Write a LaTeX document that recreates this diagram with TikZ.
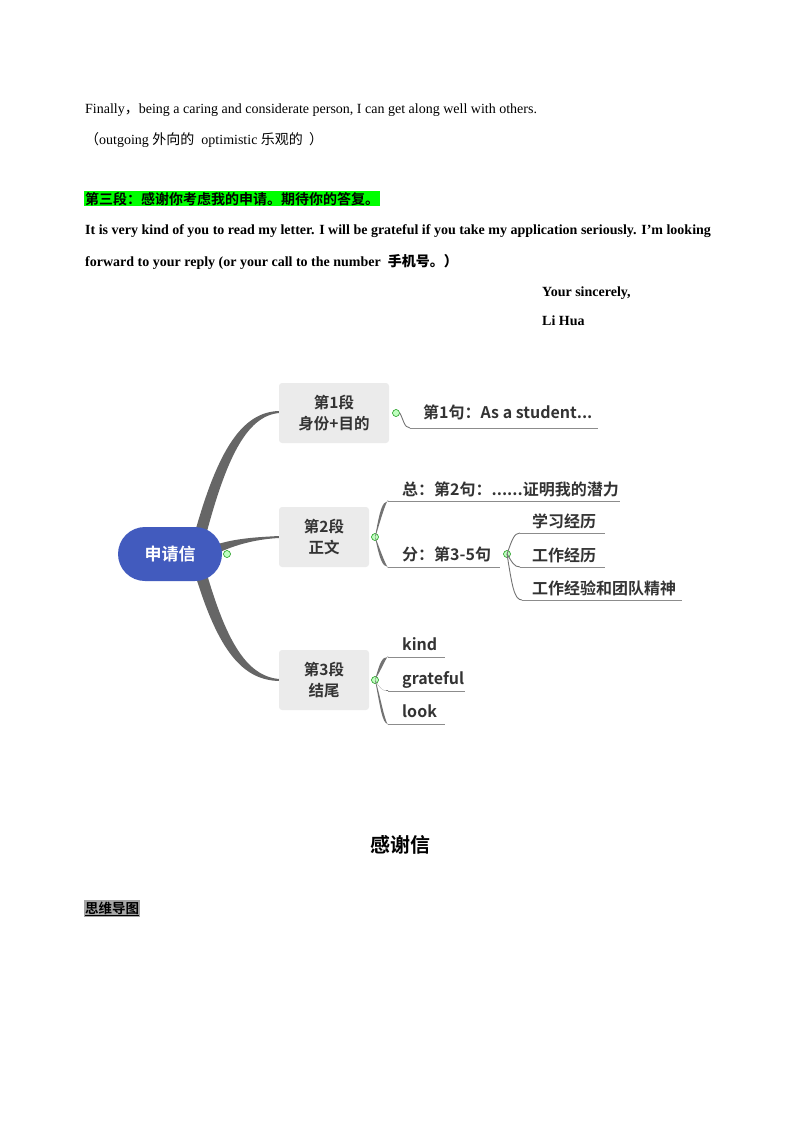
\documentclass[tikz,border=0pt]{standalone}
\usepackage{fontspec}
\setmainfont{Liberation Serif}
\newfontfamily\cjk{Noto Sans CJK SC}
\newfontfamily\cjkb{Noto Sans CJK SC Bold}
\begin{document}
\begin{tikzpicture}[x=1pt,y=-1pt,
  body/.style={anchor=base west,inner sep=0pt,font=\fontsize{14}{16}\selectfont},
  bbody/.style={body,font=\fontsize{14}{16}\selectfont\bfseries},
  mm/.style={anchor=base west,inner sep=0pt,font=\cjkb\fontsize{16}{18}\selectfont,text=black!80},
  box/.style={fill=black!8,rounded corners=3pt,align=center,font=\cjkb\fontsize{15.5}{21}\selectfont,text=black!80},
  ul/.style={draw=black!45,line width=0.8pt},
  br/.style={draw=black!55,line width=0.9pt},
  knob/.style={circle,draw=green!55!black,fill=green!25,line width=0.5pt,minimum size=7pt,inner sep=0pt}]
\useasboundingbox (0,0) rectangle (800,1132);
% top text
\node[body] (t1) at (85,113) {Finally{\cjk，}being a caring and considerate person, I can get along well with others.};
\node[body] (t2) at (85,144) {{\cjk（}outgoing {\cjk 外向的}\ \ optimistic {\cjk 乐观的\ \ ）}};
\node[anchor=base west,inner sep=1pt,fill=green,font=\cjkb\fontsize{14}{15}\selectfont] (t3) at (84,204) {第三段：感谢你考虑我的申请。期待你的答复。};
\node[bbody] (t4) at (85,234) {It is very kind of you to read my letter. I will be grateful if you take my application seriously. I’m looking};
\node[bbody] (t5) at (85,266) {forward to your reply (or your call to the number\ \ {\cjkb 手机号。）}};
\node[bbody] (t6) at (542,296) {Your sincerely,};
\node[bbody] (t7) at (542,325) {Li Hua};
% mind map
\fill[black!60] (195,532) .. controls (218,450) and (242,412) .. (279,411) -- (279,413) .. controls (246,416) and (226,460) .. (206,535) -- cycle;
\fill[black!60] (195,574) .. controls (218,650) and (242,680) .. (279,681) -- (279,679) .. controls (246,676) and (226,640) .. (206,571) -- cycle;
\fill[black!60] (218,544) .. controls (238,538) and (260,537) .. (279,536) -- (279,538) .. controls (260,539) and (240,543) .. (220,552) -- cycle;
\node[fill={rgb,255:red,66;green,91;blue,190},rounded corners=27pt,minimum width=104pt,minimum height=54pt,text=white,font=\cjkb\fontsize{17}{20}\selectfont] (root) at (170,554) {申请信};
\node[knob] (k0) at (227,554) {};
\node[box,minimum width=110pt,minimum height=60pt] (b1) at (334,413) {第1段\\身份+目的};
\node[box,minimum width=90pt,minimum height=60pt] (b2) at (324,537) {第2段\\正文};
\node[box,minimum width=90pt,minimum height=60pt] (b3) at (324,680) {第3段\\结尾};
% b1 branch
\node[knob] (k1) at (396,413) {};
\coordinate (l1a) at (410,428); \coordinate (l1b) at (598,428);
\draw[br] (k1.east) .. controls (403,418) and (404,428) .. (l1a);
\draw[ul] (l1a) -- (l1b);
\node[mm] (s1) at (423,418) {第1句：As a student...};
% b2 branch
\node[knob] (k2) at (375,537) {};
\coordinate (l2a) at (388,501); \coordinate (l2b) at (620,501);
\coordinate (l3a) at (388,567); \coordinate (l3b) at (500,567);
\fill[black!55] (k2.center) .. controls (380,510) and (382,502) .. (l2a) -- ([yshift=1]l2a) .. controls (385,505) and (382,515) .. (376,535) -- cycle;
\fill[black!55] (k2.center) .. controls (380,560) and (382,566) .. (l3a) -- ([yshift=-1]l3a) .. controls (385,563) and (382,555) .. (376,539) -- cycle;
\draw[ul] (l2a) -- (l2b);
\draw[ul] (l3a) -- (l3b);
\node[mm] (s2) at (402,495) {总：第2句：......证明我的潜力};
\node[mm] (s3) at (402,560) {分：第3-5句};
\node[knob] (k3) at (507,554) {};
\coordinate (m1a) at (520,533); \coordinate (m1b) at (605,533);
\coordinate (m2a) at (520,567); \coordinate (m2b) at (605,567);
\coordinate (m3a) at (522,600); \coordinate (m3b) at (682,600);
\draw[br] (k3.center) .. controls (512,540) and (514,533) .. (m1a);
\draw[br] (k3.center) .. controls (512,562) and (514,567) .. (m2a);
\draw[br] (k3.center) .. controls (512,585) and (514,600) .. (m3a);
\draw[ul] (m1a) -- (m1b); \draw[ul] (m2a) -- (m2b); \draw[ul] (m3a) -- (m3b);
\node[mm] (n1) at (532,527) {学习经历};
\node[mm] (n2) at (532,561) {工作经历};
\node[mm] (n3) at (532,594) {工作经验和团队精神};
% b3 branch
\node[knob] (k4) at (375,680) {};
\coordinate (p1a) at (388,657); \coordinate (p1b) at (445,657);
\coordinate (p2a) at (388,691); \coordinate (p2b) at (465,691);
\coordinate (p3a) at (388,724); \coordinate (p3b) at (445,724);
\fill[black!55] (k4.center) .. controls (380,662) and (382,657) .. (p1a) -- ([yshift=1]p1a) .. controls (384,662) and (381,670) .. (376,678) -- cycle;
\fill[black!55] (k4.center) .. controls (380,688) and (382,691) .. (p2a) -- ([yshift=1]p2a) .. controls (383,692) and (380,688) .. (376,682) -- cycle;
\fill[black!55] (k4.center) .. controls (380,705) and (382,724) .. (p3a) -- ([yshift=-1]p3a) .. controls (384,718) and (381,700) .. (376,682) -- cycle;
\draw[ul] (p1a) -- (p1b); \draw[ul] (p2a) -- (p2b); \draw[ul] (p3a) -- (p3b);
\node[mm] (q1) at (402,650) {kind};
\node[mm] (q2) at (402,684) {grateful};
\node[mm] (q3) at (402,717) {look};
% bottom
\node[font=\cjkb\fontsize{20}{24}\selectfont] (title) at (400,845) {感谢信};
\node[anchor=base west,inner sep=1pt,fill=black!35,font=\cjkb\fontsize{13.5}{15}\selectfont] (mind) at (84,913) {\underline{思维导图}};
\end{tikzpicture}
\end{document}
